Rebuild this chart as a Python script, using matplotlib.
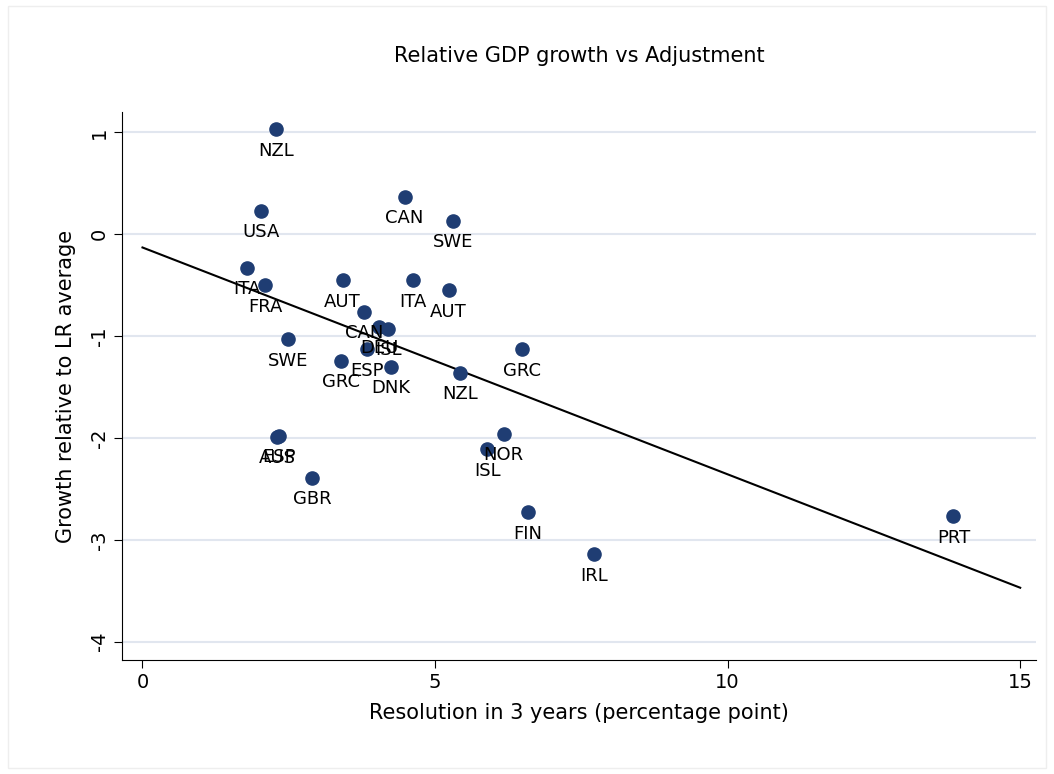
import matplotlib.pyplot as plt

countries = ["NZL", "CAN", "SWE", "USA", "ITA", "FRA", "AUT", "ITA", "AUT", "CAN",
             "DEU", "ISL", "ESP", "DNK", "GRC", "SWE", "NZL", "GRC", "NOR", "ISL",
             "ESP", "AUS", "GBR", "FIN", "IRL", "PRT"]
resolution = [2.29, 4.48, 5.31, 2.02, 1.78, 2.10, 3.42, 4.63, 5.23, 3.79,
              4.05, 4.20, 3.84, 4.24, 3.40, 2.49, 5.43, 6.49, 6.17, 5.89,
              2.33, 2.30, 2.90, 6.58, 7.72, 13.86]
growth = [1.03, 0.37, 0.13, 0.23, -0.33, -0.50, -0.45, -0.45, -0.55, -0.76,
          -0.91, -0.93, -1.13, -1.30, -1.24, -1.03, -1.36, -1.13, -1.96, -2.11,
          -1.98, -1.99, -2.39, -2.73, -3.14, -2.77]
fit_intercept = -0.13
fit_slope = -0.2227

fig = plt.figure(figsize=(10.54, 7.74), dpi=100)
fig.patch.set_facecolor("white")
ax = fig.add_axes([122 / 1054, 1 - 660 / 774, (1036 - 122) / 1054, (660 - 112) / 774])

# faint outer frame like the Stata export
fig.add_artist(plt.Rectangle((0.008, 0.008), 0.984, 0.984, transform=fig.transFigure,
                             fill=False, edgecolor="#eeeeee", lw=1))

for yv in [1, 0, -1, -2, -3, -4]:
    ax.axhline(yv, color="#e1e6ef", lw=1.5, zorder=0)

ax.scatter(resolution, growth, s=90, color="#1f3d73", zorder=3)
for c, xv, yv in zip(countries, resolution, growth):
    ax.annotate(c, (xv, yv), xytext=(0, -9), textcoords="offset points",
                ha="center", va="top", fontsize=13, color="black")

xs = [0, 15]
ax.plot(xs, [fit_intercept + fit_slope * v for v in xs], color="black", lw=1.5, zorder=2)

ax.set_xlim(-0.35, 15.27)
ax.set_ylim(-4.18, 1.2)
ax.set_xticks([0, 5, 10, 15])
ax.set_yticks([1, 0, -1, -2, -3, -4])
ax.set_yticklabels(["1", "0", "-1", "-2", "-3", "-4"], rotation=90, va="center")
ax.tick_params(labelsize=14, length=6)
for s in ["top", "right"]:
    ax.spines[s].set_visible(False)
ax.set_xlabel("Resolution in 3 years (percentage point)", fontsize=15, labelpad=8)
ax.set_ylabel("Growth relative to LR average", fontsize=15, labelpad=10)
ax.set_title("Relative GDP growth vs Adjustment", fontsize=15, pad=36)

fig.savefig("out.png", dpi=100)
